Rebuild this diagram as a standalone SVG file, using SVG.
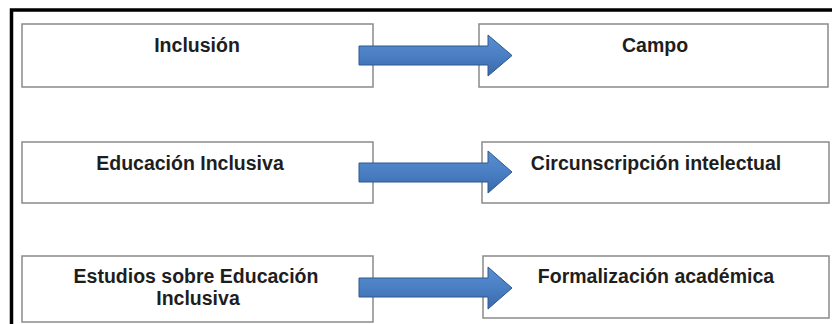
<svg xmlns="http://www.w3.org/2000/svg" width="832" height="324" viewBox="0 0 832 324">
  <defs>
    <linearGradient id="blue" x1="0" y1="0" x2="0" y2="1">
      <stop offset="0" stop-color="#5a8ed0"/>
      <stop offset="0.5" stop-color="#4a7fc4"/>
      <stop offset="1" stop-color="#3a68a8"/>
    </linearGradient>
    <style>
      .box { fill: #ffffff; stroke: #8a8a8a; stroke-width: 1.5; }
      .lbl { font-family: "Liberation Sans", Arial, sans-serif; font-weight: bold; font-size: 19.5px; fill: #1e1e1e; text-anchor: middle; }
      .arrow { fill: url(#blue); stroke: #2f5890; stroke-width: 1; stroke-linejoin: miter; }
    </style>
  </defs>
  <rect x="0" y="0" width="832" height="324" fill="#ffffff"/>
  <path d="M11.5 324 V10 H832" fill="none" stroke="#000000" stroke-width="3.5"/>

  <g id="n-inclusion">
    <rect class="box" x="22" y="24" width="351" height="63"/>
    <text class="lbl" x="197" y="52">Inclusión</text>
  </g>
  <g id="n-campo">
    <rect class="box" x="479" y="24" width="349" height="63"/>
    <text class="lbl" x="655" y="52">Campo</text>
  </g>
  <g id="n-educacion">
    <rect class="box" x="22" y="142" width="351" height="61"/>
    <text class="lbl" x="190" y="170">Educación Inclusiva</text>
  </g>
  <g id="n-circunscripcion">
    <rect class="box" x="482" y="142" width="347" height="61"/>
    <text class="lbl" x="656" y="170">Circunscripción intelectual</text>
  </g>
  <g id="n-estudios">
    <rect class="box" x="22" y="256" width="351" height="66"/>
    <text class="lbl" x="196" y="283">Estudios sobre Educación</text>
    <text class="lbl" x="198" y="305">Inclusiva</text>
  </g>
  <g id="n-formalizacion">
    <rect class="box" x="483" y="256" width="346" height="62"/>
    <text class="lbl" x="656" y="283">Formalización académica</text>
  </g>

  <g id="connectors">
    <path class="arrow" d="M359 46 H488 V35 L512 55.5 L488 76 V65 H359 Z"/>
    <path class="arrow" d="M359 163 H488 V151 L512 172 L488 193 V182 H359 Z"/>
    <path class="arrow" d="M359 278 H488 V267 L512 288 L488 309 V297 H359 Z"/>
  </g>
</svg>
